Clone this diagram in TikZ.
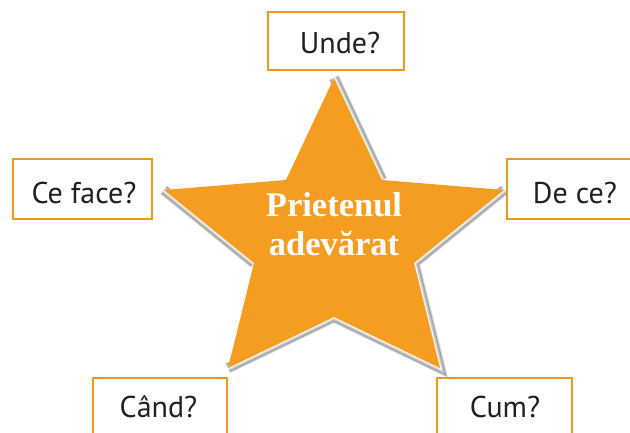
\documentclass[tikz,border=0pt]{standalone}
\usepackage{fontspec}
\setmainfont{Liberation Serif}
\newfontfamily\boxfont{PT Sans}
\definecolor{starorange}{RGB}{244,157,33}
\definecolor{boxorange}{RGB}{243,152,30}
\definecolor{txtgray}{RGB}{35,31,32}
\begin{document}
\begin{tikzpicture}[x=1pt,y=-1pt,
  qbox/.style={draw=boxorange,line width=2.3pt,fill=white,rectangle,inner sep=0pt},
  qtext/.style={anchor=base,font=\boxfont\fontsize{30}{34}\selectfont,text=txtgray,inner sep=0pt},
  startext/.style={anchor=base,font=\bfseries\fontsize{34.5}{38}\selectfont,text=white,inner sep=0pt}]
\useasboundingbox (0,0) rectangle (630,432);
\clip (0,0) rectangle (630,432);
% star corners
\coordinate (T) at (334,78);
\coordinate (URi) at (382,180);
\coordinate (R) at (504,190);
\coordinate (LRi) at (414,263);
\coordinate (BR) at (440,368);
\coordinate (Bi) at (334,317);
\coordinate (BL) at (228,368);
\coordinate (LLi) at (254,263);
\coordinate (L) at (164,190);
\coordinate (ULi) at (286,180);
% bevel shadow
\foreach \w/\c in {11pt/gray!30, 9pt/gray!70, 6pt/gray!45, 3pt/gray!8}{
  \draw[line width=\w,\c,line cap=butt,line join=miter]
    (L) -- (LLi) (T) -- (URi) (R) -- (LRi) -- (BR) -- (Bi) -- (BL);
}
% star
\fill[starorange] (T) -- (URi) -- (R) -- (LRi) -- (BR) -- (Bi) -- (BL) -- (LLi) -- (L) -- (ULi) -- cycle;
\node[startext] (s1) at (334,216.5) {Prietenul};
\node[startext] (s2) at (334,255) {adevărat};
% boxes
\node[qbox,minimum width=136,minimum height=58] (unde) at (336,41) {};
\node[qtext] (tunde) at (340,53) {Unde?};
\node[qbox,minimum width=139,minimum height=60] (ceface) at (82.5,189) {};
\node[qtext] (tceface) at (84,203) {Ce face?};
\node[qbox,minimum width=140,minimum height=60] (dece) at (577,189) {};
\node[qtext] (tdece) at (575,203) {De ce?};
\node[qbox,minimum width=134,minimum height=80] (cand) at (159.7,418.3) {};
\node[qtext] (tcand) at (158.5,417) {Când?};
\node[qbox,minimum width=135,minimum height=80] (cum) at (504.5,418.3) {};
\node[qtext] (tcum) at (505,417) {Cum?};
\end{tikzpicture}
\end{document}
